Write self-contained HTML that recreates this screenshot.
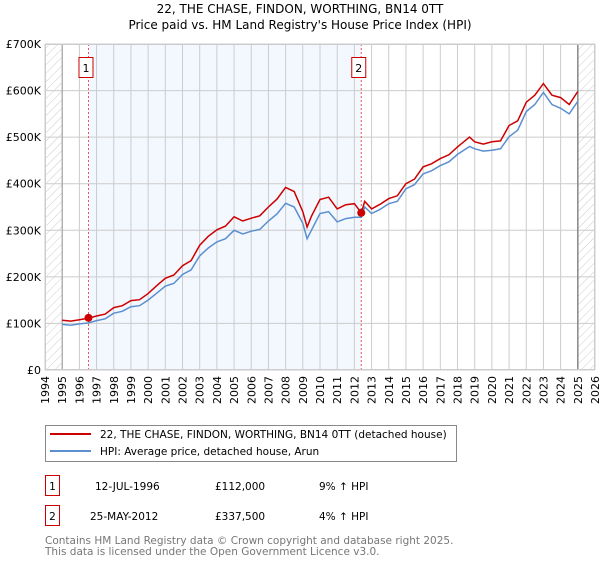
<!DOCTYPE html>
<html><head><meta charset="utf-8">
<style>
body{margin:0;background:#fff;font-family:"DejaVu Sans","Liberation Sans",sans-serif;}
svg text{font-family:"DejaVu Sans","Liberation Sans",sans-serif;}
</style></head>
<body>
<svg id="chart" width="600" height="560" viewBox="0 0 600 560" xmlns="http://www.w3.org/2000/svg">
<defs>
<pattern id="hatch" patternUnits="userSpaceOnUse" width="6" height="6" patternTransform="rotate(45)">
<line x1="0" y1="0" x2="0" y2="6" stroke="#ccc" stroke-width="1"/>
</pattern>
</defs>
<text x="300" y="13" text-anchor="middle" font-size="12">22, THE CHASE, FINDON, WORTHING, BN14 0TT</text>
<text x="300" y="29" text-anchor="middle" font-size="12">Price paid vs. HM Land Registry's House Price Index (HPI)</text>
<g id="plot"></g>
<g>
<rect x="45.5" y="425.5" width="411" height="36" fill="#fff" stroke="#888"/>
<line x1="50" y1="434" x2="91" y2="434" stroke="#cc0000" stroke-width="2"/>
<text x="100" y="438" font-size="10.5">22, THE CHASE, FINDON, WORTHING, BN14 0TT (detached house)</text>
<line x1="50" y1="451" x2="91" y2="451" stroke="#5b8fd0" stroke-width="2"/>
<text x="100" y="455" font-size="10.5">HPI: Average price, detached house, Arun</text>
</g>
<g>
<rect x="45.5" y="475.5" width="14" height="20" fill="#fff" stroke="#cc0000"/>
<text x="52.5" y="490" text-anchor="middle" font-size="10.5">1</text>
<text x="95" y="490" font-size="10.5">12-JUL-1996</text>
<text x="215" y="490" font-size="10.5">£112,000</text>
<text x="319" y="490" font-size="10.5">9% ↑ HPI</text>
</g>
<g>
<rect x="45.5" y="505.5" width="14" height="20" fill="#fff" stroke="#cc0000"/>
<text x="52.5" y="520" text-anchor="middle" font-size="10.5">2</text>
<text x="90" y="520" font-size="10.5">25-MAY-2012</text>
<text x="215" y="520" font-size="10.5">£337,500</text>
<text x="319" y="520" font-size="10.5">4% ↑ HPI</text>
</g>
<text x="45" y="544" font-size="10.5" fill="#777">Contains HM Land Registry data © Crown copyright and database right 2025.</text>
<text x="45" y="555" font-size="10.5" fill="#777">This data is licensed under the Open Government Licence v3.0.</text>
</svg>
<script>
const hpiYears=[1995,1995.5,1996,1996.5,1997,1997.5,1998,1998.5,1999,1999.5,2000,2000.5,2001,2001.5,2002,2002.5,2003,2003.5,2004,2004.5,2005,2005.5,2006,2006.5,2007,2007.5,2008,2008.5,2009,2009.25,2009.5,2010,2010.5,2011,2011.5,2012,2012.4,2012.6,2013,2013.5,2014,2014.5,2015,2015.5,2016,2016.5,2017,2017.5,2018,2018.7,2019,2019.5,2020,2020.5,2021,2021.5,2022,2022.5,2023,2023.5,2024,2024.5,2025];
const hpiValues=[98,96,99,101,106,110,122,126,136,138,150,165,180,186,205,215,245,262,275,282,300,292,298,302,320,335,358,350,315,282,300,336,340,318,325,328,328,350,336,345,357,362,389,398,421,428,439,447,463,480,475,470,472,475,501,515,555,570,596,570,562,550,577];
const priceValues=[107,105,108,111,116,120,134,138,149,151,164,181,197,204,224,235,268,287,301,309,329,320,326,331,350,367,392,383,340,307,330,366,371,346,355,357,337.5,362,346,356,368,374,400,410,436,443,454,462,479,500,490,485,490,492,525,535,575,590,615,590,585,570,598];
const saleYears=[1996.53,2012.4];
const saleValues=[112,337.5];
const saleLabels=["1","2"];
const yTicks=[0,100,200,300,400,500,600,700];
const yTickLabels=["£0","£100K","£200K","£300K","£400K","£500K","£600K","£700K"];
const xStart=1994,xEnd=2026;
const L=45,R=595,T=44,B=370;
const xs=y=>L+(y-xStart)/(xEnd-xStart)*(R-L);
const ys=v=>B-v/700*(B-T);
const NS="http://www.w3.org/2000/svg";
const g=document.getElementById('plot');
function mk(t,a){const e=document.createElementNS(NS,t);for(const k in a)e.setAttribute(k,a[k]);g.appendChild(e);return e;}
let e;
e=mk('rect',{x:L,y:T,width:R-L,height:B-T,fill:'#fff'});


e=mk('rect',{x:xs(saleYears[0]),y:T,width:xs(saleYears[1])-xs(saleYears[0]),height:B-T,fill:'#f3f7fe'});


e=mk('rect',{x:L,y:T,width:xs(1995)-L,height:B-T,fill:'url(#hatch)'});


e=mk('rect',{x:xs(2025),y:T,width:R-xs(2025),height:B-T,fill:'url(#hatch)'});


for(let yr=xStart;yr<=xEnd;yr++){
  e=mk('line',{x1:xs(yr),x2:xs(yr),y1:T,y2:B,stroke:'#ccc','stroke-width':1});
  
  
  e=mk('text',{x:0,y:0,transform:`translate(${xs(yr)+4},376) rotate(-90)`,'text-anchor':'end','font-size':11});
  e.textContent=String(yr);
  
  
}
yTicks.forEach((v,i)=>{
  e=mk('line',{x1:L,x2:R,y1:ys(v),y2:ys(v),stroke:'#ccc','stroke-width':1});
  
  
  e=mk('text',{x:L-4,y:ys(v)+4,'text-anchor':'end','font-size':11});
  e.textContent=yTickLabels[i];
  
  
});
e=mk('line',{x1:xs(1995),x2:xs(1995),y1:T,y2:B,stroke:'#999','stroke-width':1});


e=mk('line',{x1:xs(2025),x2:xs(2025),y1:T,y2:B,stroke:'#888','stroke-width':1.5});


saleYears.forEach((yr,i)=>{
  e=mk('line',{x1:xs(yr),x2:xs(yr),y1:T,y2:B,stroke:'#e55','stroke-width':1,'stroke-dasharray':'2,2'});
  
  
  e=mk('rect',{x:xs(yr)-9.5,y:57.5,width:14,height:20,fill:'#fff',stroke:'#cc0000'});
  
  
  e=mk('text',{x:xs(yr)-2.5,y:72,'text-anchor':'middle','font-size':11});
  e.textContent=saleLabels[i];
  
  
});
function path(vals){return hpiYears.map((y,i)=>(i?'L':'M')+xs(y).toFixed(1)+','+ys(vals[i]).toFixed(1)).join('');}
e=mk('path',{d:path(hpiValues),fill:'none',stroke:'#5b8fd0','stroke-width':1.5});


e=mk('path',{d:path(priceValues),fill:'none',stroke:'#cc0000','stroke-width':1.5});


saleYears.forEach((yr,i)=>{
  e=mk('circle',{cx:xs(yr),cy:ys(saleValues[i]),r:4,fill:'#cc0000'});
  
  
});
e=mk('rect',{x:L+0.5,y:T+0.5,width:R-L-1,height:B-T-1,fill:'none',stroke:'#ccc'});


</script>
</body></html>
